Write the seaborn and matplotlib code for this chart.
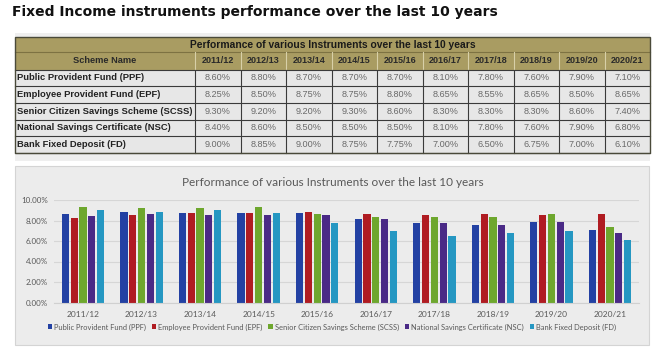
import matplotlib
matplotlib.use("Agg")
import matplotlib.pyplot as plt
from matplotlib.patches import Rectangle
import pandas as pd
import seaborn as sns

# ---- data ----
years = ["2011/12", "2012/13", "2013/14", "2014/15", "2015/16",
         "2016/17", "2017/18", "2018/19", "2019/20", "2020/21"]
schemes = ["Public Provident Fund (PPF)",
           "Employee Provident Fund (EPF)",
           "Senior Citizen Savings Scheme (SCSS)",
           "National Savings Certificate (NSC)",
           "Bank Fixed Deposit (FD)"]
ppf = [8.60, 8.80, 8.70, 8.70, 8.70, 8.10, 7.80, 7.60, 7.90, 7.10]
epf = [8.25, 8.50, 8.75, 8.75, 8.80, 8.65, 8.55, 8.65, 8.50, 8.65]
scss = [9.30, 9.20, 9.20, 9.30, 8.60, 8.30, 8.30, 8.30, 8.60, 7.40]
nsc = [8.40, 8.60, 8.50, 8.50, 8.50, 8.10, 7.80, 7.60, 7.90, 6.80]
fd = [9.00, 8.85, 9.00, 8.75, 7.75, 7.00, 6.50, 6.75, 7.00, 6.10]
series = [ppf, epf, scss, nsc, fd]
# names as written in the table rows
table_names = ["Public Provident Fund (PPF)",
               "Employee Provident Fund (EPF)",
               "Senior Citizen Savings Scheme (SCSS)",
               "National Savings Certificate (NSC)",
               "Bank Fixed Deposit (FD)"]
colors = ["#2341a3", "#b01c22", "#6ea72e", "#4a2a86", "#2597c2"]
title = "Fixed Income instruments performance over the last 10 years"
sub_title = "Performance of various Instruments over the last 10 years"

df = pd.DataFrame({
    "year": [y for s in series for y in years],
    "scheme": [n for n, s in zip(schemes, series) for _ in s],
    "value": [v for s in series for v in s],
})

W, H = 660, 349
fig = plt.figure(figsize=(W / 100, H / 100), dpi=100)
fig.patch.set_facecolor("white")

# ---- pixel canvas for title, table and panel backgrounds ----
bg = fig.add_axes([0, 0, 1, 1])
bg.set_xlim(0, W)
bg.set_ylim(H, 0)
bg.axis("off")

bg.text(12, 12, title, fontsize=10.0, fontweight="bold", family="DejaVu Sans",
        color="#111111", va="center", ha="left")

# table geometry
tx0, tx1 = 15, 650
name_w = 180
col_edges = [tx0 + name_w + i * (tx1 - tx0 - name_w) / len(years)
             for i in range(len(years) + 1)]
r_title = (37, 52)
r_head = (52, 69.5)
row_h = (153 - 69.5) / len(table_names)

olive = "#a99c62"
olive_line = "#7d7242"
# panel behind table
bg.add_patch(Rectangle((tx0, 33), tx1 - tx0, 128, facecolor="#efefef",
                       edgecolor="none", zorder=0))
# title row
bg.add_patch(Rectangle((tx0, r_title[0]), tx1 - tx0, r_head[1] - r_title[0],
                       facecolor=olive, edgecolor="none", zorder=1))
bg.plot([tx0, tx1], [r_title[1], r_title[1]], color=olive_line, lw=0.8, zorder=2)
bg.text((tx0 + tx1) / 2, sum(r_title) / 2, sub_title, fontsize=7.4,
        fontweight="bold", family="Liberation Sans", color="#1a1a1a",
        ha="center", va="center", zorder=3)
# header row
hc = sum(r_head) / 2
bg.text(tx0 + name_w / 2, hc, "Scheme Name", fontsize=6.7, fontweight="bold",
        family="Liberation Sans", color="#2a2a2a", ha="center", va="center", zorder=3)
for i, y in enumerate(years):
    bg.text((col_edges[i] + col_edges[i + 1]) / 2, hc, y, fontsize=6.5,
            fontweight="bold", family="Liberation Sans", color="#2a2a2a",
            ha="center", va="center", zorder=3)
for x in col_edges[:-1]:
    bg.plot([x, x], [r_head[0], r_head[1]], color="#d8d0a8", lw=0.8, zorder=2)

# data rows
for r, (name, vals) in enumerate(zip(table_names, series)):
    ytop = r_head[1] + r * row_h
    bg.add_patch(Rectangle((tx0, ytop), tx1 - tx0, row_h, facecolor="#e7e7e7",
                           edgecolor="none", zorder=1))
    bg.text(tx0 + 2, ytop + row_h / 2, name, fontsize=6.75, fontweight="bold",
            family="Liberation Sans", color="#222222", ha="left", va="center",
            zorder=3)
    for i, v in enumerate(vals):
        bg.text((col_edges[i] + col_edges[i + 1]) / 2, ytop + row_h / 2,
                f"{v:.2f}%", fontsize=6.6, family="Liberation Sans",
                color="#6a6a6a", ha="center", va="center", zorder=3)
    bg.plot([tx0, tx1], [ytop + row_h, ytop + row_h], color="#3a3a3a", lw=0.8, zorder=2)
for x in col_edges[:-1]:
    bg.plot([x, x], [r_head[1], 153], color="#3a3a3a", lw=0.8, zorder=2)
bg.plot([tx0, tx1], [r_head[1], r_head[1]], color="#3a3a3a", lw=0.8, zorder=2)
# outer frame
bg.add_patch(Rectangle((tx0, r_title[0]), tx1 - tx0, 153 - r_title[0],
                       facecolor="none", edgecolor="#4a4a3a", lw=1.0, zorder=4))

# chart panel
bg.add_patch(Rectangle((15, 166), 634, 179, facecolor="#ececec",
                       edgecolor="#d4d4d4", lw=0.8, zorder=0))
bg.text(333, 183, sub_title, fontsize=8.5, family="Lato", color="#595959",
        ha="center", va="center")

# ---- bar chart ----
px0, px1 = 53.7, 639.3
py_top, py_bot = 200, 302.5
ax = fig.add_axes([px0 / W, 1 - py_bot / H, (px1 - px0) / W, (py_bot - py_top) / H])
ax.set_facecolor("none")
sns.barplot(data=df, x="year", y="value", hue="scheme", order=years,
            hue_order=schemes, palette=colors, width=0.75, gap=0.18,
            saturation=1, ax=ax, legend=True, errorbar=None)
ax.set_ylim(0, 10)
ax.set_xlim(-0.5, len(years) - 0.5)
ax.set_yticks(range(0, 11, 2))
ax.set_yticklabels([f"{t:.2f}%" for t in range(0, 11, 2)])
ax.grid(axis="y", color="#d6d6d6", lw=0.8)
ax.set_axisbelow(True)
for s in ["top", "right", "left"]:
    ax.spines[s].set_visible(False)
ax.spines["bottom"].set_color("#d0d0d0")
ax.set_xlabel("")
ax.set_ylabel("")
ax.tick_params(axis="both", length=0, colors="#595959", labelsize=5.8)
ax.tick_params(axis="x", pad=6, labelsize=6.0)
ax.tick_params(axis="y", pad=4)
for lab in ax.get_xticklabels() + ax.get_yticklabels():
    lab.set_family("Lato")

handles, labels = ax.get_legend_handles_labels()
ax.get_legend().remove()
fig.legend(handles, labels, loc="center", bbox_to_anchor=(0.503, 1 - 327 / H),
           ncol=5, frameon=False, handlelength=0.55,
           handleheight=0.55, handletextpad=0.3, columnspacing=0.75,
           prop={"family": "Lato", "size": 5.45}, labelcolor="#595959")

fig.savefig("out.png", dpi=100)
